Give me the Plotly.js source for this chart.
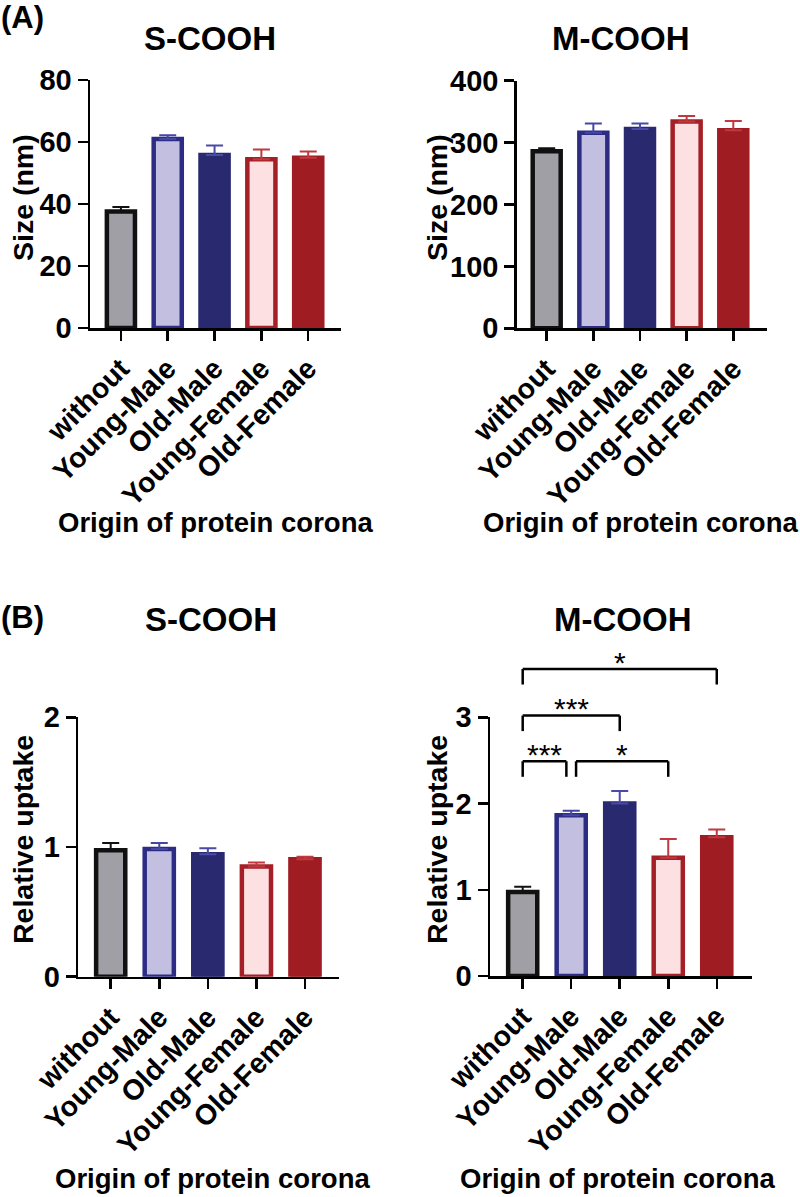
<!DOCTYPE html>
<html>
<head>
<meta charset="utf-8">
<script src="https://cdn.plot.ly/plotly-3.0.1.min.js"></script>
<style>
  html, body { margin: 0; padding: 0; background: #fff; }
  #chart { width: 800px; height: 1197px; }
</style>
</head>
<body>
<div id="chart"></div>
<script>
// Corona origin groups (x categories)
const groups = ['without', 'Young-Male', 'Old-Male', 'Young-Female', 'Old-Female'];

// (A) hydrodynamic size, nm — mean and upper SD
const sizeS    = [37.6, 61.0, 55.8, 54.4, 54.9];
const sizeSErr = [1.4, 1.2, 3.1, 3.2, 2.0];
const sizeM    = [286, 316, 322, 334, 320];
const sizeMErr = [5, 15, 9, 9, 15];

// (B) relative uptake — mean and upper SD
const uptakeS    = [0.975, 0.985, 0.945, 0.85, 0.905];
const uptakeSErr = [0.055, 0.045, 0.045, 0.03, 0.02];
const uptakeM    = [0.975, 1.865, 2.0, 1.37, 1.61];
const uptakeMErr = [0.06, 0.05, 0.146, 0.22, 0.09];

// Y tick labels
const sizeSTicks   = [0, 20, 40, 60, 80];
const sizeMTicks   = [0, 100, 200, 300, 400];
const uptakeSTicks = [0, 1, 2];
const uptakeMTicks = [0, 1, 2, 3];

// Text
const panelTitles = ['S-COOH', 'M-COOH', 'S-COOH', 'M-COOH'];
const yTitles = ['Size (nm)', 'Size (nm)', 'Relative uptake', 'Relative uptake'];
const xTitle = 'Origin of protein corona';
const panelLetters = ['(A)', '(B)'];

// Significance for M-COOH uptake: [from, to], label
const sigPairs  = [[0, 0.9], [1.1, 3], [0, 2], [0, 4]];
const sigLabels = ['***', '*', '***', '*'];

// ---- styling ----
const W = 800, H = 1197;
const FONT = 'Liberation Sans, Arial, Helvetica, sans-serif';
const fills    = ['#a09fa5', '#c2bfe0', '#29296f', '#fde0e2', '#9e1c22'];
const outlines = ['#111111', '#2c2c84', '#29296f', '#a51f26', '#9e1c22'];
const errCols  = ['#111111', '#4646a6', '#4a4aa8', '#c0393f', '#c0393f'];

const px = (x) => x / W;
const py = (y) => 1 - y / H;

const panels = [
  { xa: 'x',  ya: 'y',  vals: sizeS,   errs: sizeSErr,   ticks: sizeSTicks,
    xpx: [90, 341],    ypx: [328, 80],    xr: [-0.66, 4.70] },
  { xa: 'x2', ya: 'y2', vals: sizeM,   errs: sizeMErr,   ticks: sizeMTicks,
    xpx: [516.7, 766.7], ypx: [328.3, 80.7], xr: [-0.643, 4.716] },
  { xa: 'x3', ya: 'y3', vals: uptakeS, errs: uptakeSErr, ticks: uptakeSTicks,
    xpx: [78.3, 339.3], ypx: [976.7, 717.3], xr: [-0.667, 4.706] },
  { xa: 'x4', ya: 'y4', vals: uptakeM, errs: uptakeMErr, ticks: uptakeMTicks,
    xpx: [490, 751.7],  ypx: [976, 717.3],  xr: [-0.674, 4.72] }
];

const titlePos  = [[210, 38], [620, 38], [211, 619], [622, 619]];
const yTitlePos = [[23, 198], [437, 198], [23, 840], [437, 840]];
const xTitlePos = [[215, 522], [640, 522], [212, 1178], [617, 1178]];

const traces = [];
const layout = {
  width: W, height: H,
  margin: { l: 0, r: 0, t: 0, b: 0, pad: 0 },
  paper_bgcolor: '#ffffff', plot_bgcolor: '#ffffff',
  barmode: 'overlay',
  showlegend: false,
  font: { family: FONT, color: '#000' },
  annotations: [],
  shapes: []
};

panels.forEach((p, k) => {
  const n = k === 0 ? '' : String(k + 1);
  groups.forEach((g, i) => {
    traces.push({
      type: 'bar',
      x: [g], y: [p.vals[i]],
      xaxis: p.xa, yaxis: p.ya,
      width: 0.6,
      marker: { color: fills[i], line: { color: outlines[i], width: 4.5 } },
      error_y: {
        type: 'data', symmetric: false,
        array: [p.errs[i]], arrayminus: [0],
        color: errCols[i], thickness: 2, width: 8.5
      },
      hoverinfo: 'x+y'
    });
  });

  const ymax = p.ticks[p.ticks.length - 1];
  layout['xaxis' + n] = {
    domain: [px(p.xpx[0]), px(p.xpx[1])],
    anchor: p.ya,
    type: 'category',
    categoryorder: 'array', categoryarray: groups,
    range: p.xr,
    showline: true, linecolor: '#000', linewidth: 2.5,
    ticks: 'outside', ticklen: 10, tickwidth: 2.5, tickcolor: '#000',
    tickangle: -45,
    tickfont: { family: FONT, size: 28.5, weight: 700, color: '#000' },
    showgrid: false, zeroline: false, fixedrange: true
  };
  layout['yaxis' + n] = {
    domain: [py(p.ypx[0]), py(p.ypx[1])],
    anchor: p.xa,
    range: [0, ymax],
    tickmode: 'array', tickvals: p.ticks,
    showline: true, linecolor: '#000', linewidth: 2.5,
    ticks: 'outside', ticklen: 10, tickwidth: 2.5, tickcolor: '#000',
    tickfont: { family: FONT, size: 29, weight: 700, color: '#000' },
    showgrid: false, zeroline: false, fixedrange: true
  };

  // panel title
  layout.annotations.push({
    xref: 'paper', yref: 'paper', x: px(titlePos[k][0]), y: py(titlePos[k][1]),
    xanchor: 'center', yanchor: 'middle', showarrow: false,
    text: panelTitles[k], font: { family: FONT, size: 33, weight: 700, color: '#000' }
  });
  // y title
  layout.annotations.push({
    xref: 'paper', yref: 'paper', x: px(yTitlePos[k][0]), y: py(yTitlePos[k][1]),
    xanchor: 'center', yanchor: 'middle', showarrow: false, textangle: -90,
    text: yTitles[k], font: { family: FONT, size: 28.5, weight: 700, color: '#000' }
  });
  // x title
  layout.annotations.push({
    xref: 'paper', yref: 'paper', x: px(xTitlePos[k][0]), y: py(xTitlePos[k][1]),
    xanchor: 'center', yanchor: 'middle', showarrow: false,
    text: xTitle, font: { family: FONT, size: 27.5, weight: 700, color: '#000' }
  });
});

// panel letters
[[22, 17], [22, 617]].forEach((pos, i) => {
  layout.annotations.push({
    xref: 'paper', yref: 'paper', x: px(pos[0]), y: py(pos[1]),
    xanchor: 'center', yanchor: 'middle', showarrow: false,
    text: panelLetters[i], font: { family: FONT, size: 31, weight: 700, color: '#000' }
  });
});

// significance brackets on the M-COOH uptake panel (y in data units above the axis)
const sp = panels[3];
const ymax4 = sp.ticks[sp.ticks.length - 1];
const fx = (v) => (v - sp.xr[0]) / (sp.xr[1] - sp.xr[0]);
const fy = (v) => v / ymax4;
const bracketTop = [2.49, 2.49, 3.02, 3.56];
const legDrop = 0.18;
const starGap = 0.08;
sigPairs.forEach((pr, i) => {
  const x0 = fx(pr[0]), x1 = fx(pr[1]);
  const yt = fy(bracketTop[i]), yb = fy(bracketTop[i] - legDrop);
  const line = { color: '#000', width: 2.5 };
  const base = { type: 'line', xref: 'x4 domain', yref: 'y4 domain', line: line, layer: 'above' };
  layout.shapes.push(Object.assign({}, base, { x0: x0, x1: x1, y0: yt, y1: yt }));
  layout.shapes.push(Object.assign({}, base, { x0: x0, x1: x0, y0: yb, y1: yt }));
  layout.shapes.push(Object.assign({}, base, { x0: x1, x1: x1, y0: yb, y1: yt }));
  layout.annotations.push({
    xref: 'x4 domain', yref: 'y4 domain',
    x: (x0 + x1) / 2, y: fy(bracketTop[i] + starGap),
    xanchor: 'center', yanchor: 'middle', showarrow: false,
    text: sigLabels[i], font: { family: FONT, size: 30, color: '#000' }
  });
});

Plotly.newPlot('chart', traces, layout, { staticPlot: true, displayModeBar: false });
</script>
</body>
</html>
